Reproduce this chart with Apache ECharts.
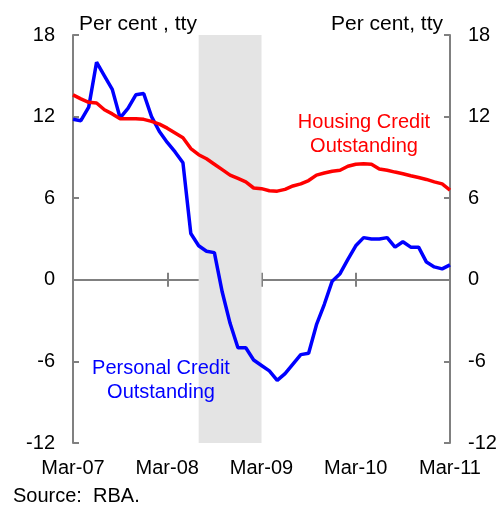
<!DOCTYPE html>
<html>
<head>
<meta charset="utf-8">
<script src="https://cdn.jsdelivr.net/npm/echarts@6/dist/echarts.min.js"></script>
<style>
html,body{margin:0;padding:0;background:#fff;}
#chart{width:500px;height:505px;}
</style>
</head>
<body>
<div id="chart"></div>
<script>
// Monthly categories Mar-07 .. Mar-11
var monthNames = ['Jan','Feb','Mar','Apr','May','Jun','Jul','Aug','Sep','Oct','Nov','Dec'];
var categories = [];
for (var i = 0; i < 49; i++) {
  var mi = (2 + i) % 12;
  var yr = 7 + Math.floor((2 + i) / 12);
  categories.push(monthNames[mi] + '-' + (yr < 10 ? '0' + yr : '' + yr));
}
var yTicks = [-12, -6, 0, 6, 12, 18];

var personalCredit = [
  11.8, 11.7, 12.7, 16.0, 15.0, 14.0, 11.9, 12.6, 13.6, 13.7,
  12.0, 10.9, 10.1, 9.4, 8.6, 3.4, 2.5, 2.1, 2.0, -0.9,
  -3.2, -5.0, -5.0, -5.9, -6.3, -6.7, -7.4, -6.9, -6.2, -5.5,
  -5.4, -3.3, -1.8, -0.1, 0.45, 1.5, 2.5, 3.1, 3.0, 3.0,
  3.1, 2.4, 2.8, 2.4, 2.4, 1.3, 0.95, 0.8, 1.1
];
var housingCredit = [
  13.6, 13.3, 13.05, 13.0, 12.5, 12.2, 11.85, 11.85, 11.85, 11.8,
  11.65, 11.45, 11.15, 10.8, 10.45, 9.65, 9.2, 8.9, 8.5, 8.1,
  7.7, 7.45, 7.2, 6.75, 6.7, 6.55, 6.52, 6.65, 6.9, 7.05,
  7.3, 7.7, 7.85, 7.98, 8.05, 8.35, 8.5, 8.53, 8.5, 8.15,
  8.05, 7.92, 7.8, 7.65, 7.52, 7.38, 7.2, 7.05, 6.6
];
var recessionStart = 'Jul-08';
var recessionEnd = 'Mar-09';

var FONT = 'Liberation Sans, Arial, sans-serif';
var GRAY = '#808080';

var chart = echarts.init(document.getElementById('chart'), null, {renderer: 'canvas'});

function yAxisCfg(pos) {
  return {
    type: 'value', position: pos, min: yTicks[0], max: yTicks[yTicks.length - 1], interval: 6,
    axisLine: {show: true, onZero: false, lineStyle: {color: GRAY, width: 2}},
    axisTick: {show: true, inside: true, length: 6, lineStyle: {color: GRAY, width: 2}},
    axisLabel: {show: true, color: '#000', fontSize: 20, fontFamily: FONT, margin: 18},
    splitLine: {show: false}
  };
}

var option = {
  animation: false,
  backgroundColor: '#fff',
  grid: {left: 73, right: 50, top: 35, bottom: 62, containLabel: false},
  xAxis: [
    {
      type: 'category', data: categories, boundaryGap: false, position: 'bottom',
      axisLine: {show: false, onZero: false},
      axisTick: {show: false},
      axisLabel: {show: true, interval: 11, color: '#000', fontSize: 20, fontFamily: FONT, margin: 15, showMinLabel: true, showMaxLabel: true},
      splitLine: {show: false}
    },
    {
      type: 'category', data: categories, boundaryGap: false, position: 'bottom',
      axisLine: {show: true, onZero: true, onZeroAxisIndex: 0, lineStyle: {color: GRAY, width: 2}},
      axisTick: {show: true, interval: 11, length: 7, inside: false, lineStyle: {color: GRAY, width: 2}},
      axisLabel: {show: false},
      splitLine: {show: false}
    },
    {
      type: 'category', data: categories, boundaryGap: false, position: 'top',
      axisLine: {show: false, onZero: true, onZeroAxisIndex: 1},
      axisTick: {show: true, interval: 11, length: 7, inside: false, lineStyle: {color: GRAY, width: 2}},
      axisLabel: {show: false},
      splitLine: {show: false}
    }
  ],
  yAxis: [yAxisCfg('left'), yAxisCfg('right')],
  series: [
    {
      name: 'shade', type: 'line', data: [], xAxisIndex: 0, yAxisIndex: 0, z: 1,
      markArea: {
        silent: true,
        itemStyle: {color: '#e4e4e4'},
        data: [[{xAxis: recessionStart}, {xAxis: recessionEnd}]]
      }
    },
    {
      name: 'Personal Credit Outstanding', type: 'line', data: personalCredit,
      xAxisIndex: 0, yAxisIndex: 0, symbol: 'none', z: 3,
      lineStyle: {color: '#0000ff', width: 3.5}
    },
    {
      name: 'Housing Credit Outstanding', type: 'line', data: housingCredit,
      xAxisIndex: 0, yAxisIndex: 0, symbol: 'none', z: 4,
      lineStyle: {color: '#ff0000', width: 3.5}
    }
  ],
  graphic: [
    {type: 'text', z: 100, left: 79, top: 14, style: {text: 'Per cent , tty', fill: '#000', font: '21px ' + FONT}},
    {type: 'text', z: 100, right: 57, top: 14, style: {text: 'Per cent, tty', fill: '#000', font: '21px ' + FONT}},
    {type: 'text', z: 100, x: 364, y: 110, style: {text: 'Housing Credit\nOutstanding', fill: '#ff0000', font: '20px ' + FONT, align: 'center', lineHeight: 24}},
    {type: 'text', z: 100, x: 161, y: 356, style: {text: 'Personal Credit\nOutstanding', fill: '#0000ff', font: '20px ' + FONT, align: 'center', lineHeight: 24}},
    {type: 'text', z: 100, left: 13, top: 486, style: {text: 'Source:  RBA.', fill: '#000', font: '20px ' + FONT}}
  ]
};
chart.setOption(option);
</script>
</body>
</html>
